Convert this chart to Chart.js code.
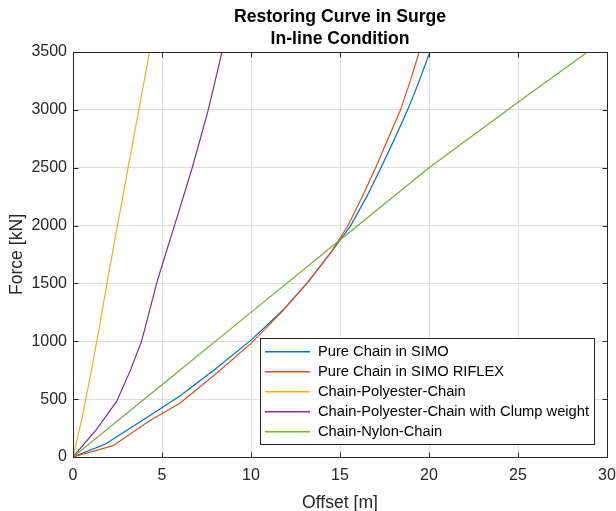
<!DOCTYPE html>
<html>
<head>
<meta charset="utf-8">
<script src="https://cdn.jsdelivr.net/npm/chart.js@4.4.0/dist/chart.umd.min.js"></script>
<style>
  html, body { margin: 0; padding: 0; background: #fff; }
  #wrap { width: 616px; height: 511px; }
</style>
</head>
<body>
<div id="wrap"><canvas id="c" width="616" height="511"></canvas></div>
<script>
// Surge restoring curves: offset [m] vs mooring force [kN]
const chartTitle = ['Restoring Curve in Surge', 'In-line Condition'];
const xLabel = 'Offset [m]';
const yLabel = 'Force [kN]';

const seriesNames = [
  'Pure Chain in SIMO',
  'Pure Chain in SIMO RIFLEX',
  'Chain-Polyester-Chain',
  'Chain-Polyester-Chain with Clump weight',
  'Chain-Nylon-Chain'
];
const seriesColors = ['#0072BD', '#D95319', '#EDB120', '#7E2F8E', '#77AC30'];

const pureChainSimoOffset = [0, 1.8, 4.3, 6.0, 8.0, 10.0, 11.8, 13.2, 14.6, 15.6, 16.5, 17.3, 18.1, 18.8, 19.45, 20.05];
const pureChainSimoForce  = [0, 110, 357, 527, 760, 1010, 1270, 1512, 1790, 2000, 2250, 2500, 2760, 3000, 3250, 3500];

const pureChainRiflexOffset = [0, 2.25, 4.3, 6.0, 8.0, 10.0, 11.8, 13.2, 14.5, 15.45, 16.25, 17.0, 17.7, 18.4, 18.95, 19.45];
const pureChainRiflexForce  = [0, 98, 313, 464, 715, 982, 1265, 1512, 1770, 2000, 2250, 2500, 2750, 3000, 3250, 3500];

const polyesterOffset = [0, 0.5, 1, 1.5, 2, 3, 4, 4.3];
const polyesterForce  = [0, 330, 720, 1140, 1580, 2420, 3250, 3500];

const clumpOffset = [0, 1.3, 2.45, 3.2, 3.85, 4.75, 5.7, 6.7, 7.6, 8.37];
const clumpForce  = [0, 235, 480, 740, 1000, 1530, 2000, 2500, 3000, 3500];

const nylonOffset = [0, 5, 10, 15, 20, 25, 28.9];
const nylonForce  = [0, 625, 1250, 1875, 2500, 3065, 3500];

const xTicks = [0, 5, 10, 15, 20, 25, 30];
const yTicks = [0, 500, 1000, 1500, 2000, 2500, 3000, 3500];

const offsets = [pureChainSimoOffset, pureChainRiflexOffset, polyesterOffset, clumpOffset, nylonOffset];
const forces  = [pureChainSimoForce, pureChainRiflexForce, polyesterForce, clumpForce, nylonForce];

const FONT = '"Liberation Sans", Arial, Helvetica, sans-serif';
const AXIS_COLOR = '#262626';

const datasets = seriesNames.map((name, i) => ({
  label: name,
  data: offsets[i].map((x, k) => ({ x: x, y: forces[i][k] })),
  borderColor: seriesColors[i],
  backgroundColor: seriesColors[i],
  borderWidth: 1.2,
  pointRadius: 0,
  showLine: true,
  fill: false,
  tension: 0,
  order: seriesNames.length - i
}));

// Axes box with inward ticks, titles and the boxed legend
const decorations = {
  id: 'decorations',
  afterDraw(chart) {
    const { ctx, chartArea: a, scales } = chart;
    const xs = scales.x, ys = scales.y;
    const L = Math.round(a.left) + 0.5, R = Math.round(a.right) + 0.5;
    const T = Math.round(a.top) + 0.5, B = Math.round(a.bottom) + 0.5;
    ctx.save();
    ctx.strokeStyle = AXIS_COLOR;
    ctx.lineWidth = 1;
    ctx.strokeRect(L, T, R - L, B - T);
    const tl = 5;
    ctx.beginPath();
    xTicks.forEach(v => {
      const p = Math.round(xs.getPixelForValue(v)) + 0.5;
      ctx.moveTo(p, B); ctx.lineTo(p, B - tl);
      ctx.moveTo(p, T); ctx.lineTo(p, T + tl);
    });
    yTicks.forEach(v => {
      const p = Math.round(ys.getPixelForValue(v)) + 0.5;
      ctx.moveTo(L, p); ctx.lineTo(L + tl, p);
      ctx.moveTo(R, p); ctx.lineTo(R - tl, p);
    });
    ctx.stroke();

    // title
    const cx = (a.left + a.right) / 2;
    ctx.fillStyle = '#000';
    ctx.font = 'bold 17.6px ' + FONT;
    ctx.textAlign = 'center';
    ctx.textBaseline = 'alphabetic';
    ctx.fillText(chartTitle[0], cx, 21.5);
    ctx.fillText(chartTitle[1], cx, 44);

    // axis labels
    ctx.fillStyle = AXIS_COLOR;
    ctx.font = '17.6px ' + FONT;
    ctx.fillText(xLabel, cx, 508);
    ctx.save();
    ctx.translate(21.5, (a.top + a.bottom) / 2);
    ctx.rotate(-Math.PI / 2);
    ctx.fillText(yLabel, 0, 0);
    ctx.restore();

    // legend
    const lx0 = 260.5, ly0 = 338.5, lx1 = 594.5, ly1 = 444.5;
    ctx.fillStyle = '#fff';
    ctx.fillRect(lx0, ly0, lx1 - lx0, ly1 - ly0);
    ctx.strokeStyle = AXIS_COLOR;
    ctx.lineWidth = 1;
    ctx.strokeRect(lx0, ly0, lx1 - lx0, ly1 - ly0);
    const rowY = [351.7, 371.7, 391.7, 411.7, 431.7];
    ctx.font = '14.7px ' + FONT;
    ctx.textAlign = 'left';
    ctx.textBaseline = 'middle';
    seriesNames.forEach((name, i) => {
      ctx.strokeStyle = seriesColors[i];
      ctx.lineWidth = 1.6;
      ctx.beginPath();
      ctx.moveTo(265, rowY[i]);
      ctx.lineTo(310, rowY[i]);
      ctx.stroke();
      ctx.fillStyle = '#000';
      ctx.fillText(name, 318, rowY[i] + 0.5);
    });
    ctx.restore();
  }
};

new Chart(document.getElementById('c'), {
  type: 'scatter',
  data: { datasets: datasets },
  options: {
    responsive: false,
    animation: false,
    devicePixelRatio: 1,
    layout: { padding: { left: 0, top: 52, right: 0, bottom: 0 } },
    plugins: {
      legend: { display: false },
      title: { display: false },
      tooltip: { enabled: false }
    },
    scales: {
      x: {
        type: 'linear',
        min: 0, max: 30,
        afterBuildTicks: s => { s.ticks = xTicks.map(v => ({ value: v })); },
        ticks: { color: AXIS_COLOR, font: { family: FONT, size: 16 }, padding: 9, maxRotation: 0,
                 callback: v => String(v) },
        grid: { color: '#dedede', drawTicks: false, lineWidth: 1 },
        border: { display: false },
        afterFit: s => { s.height = 54; s.paddingRight = 9; s.paddingLeft = 0; }
      },
      y: {
        type: 'linear',
        min: 0, max: 3500,
        afterBuildTicks: s => { s.ticks = yTicks.map(v => ({ value: v })); },
        ticks: { color: AXIS_COLOR, font: { family: FONT, size: 16 }, padding: 6,
                 callback: v => String(v) },
        grid: { color: '#dedede', drawTicks: false, lineWidth: 1 },
        border: { display: false },
        afterFit: s => { s.width = 73; }
      }
    }
  },
  plugins: [decorations]
});
</script>
</body>
</html>
